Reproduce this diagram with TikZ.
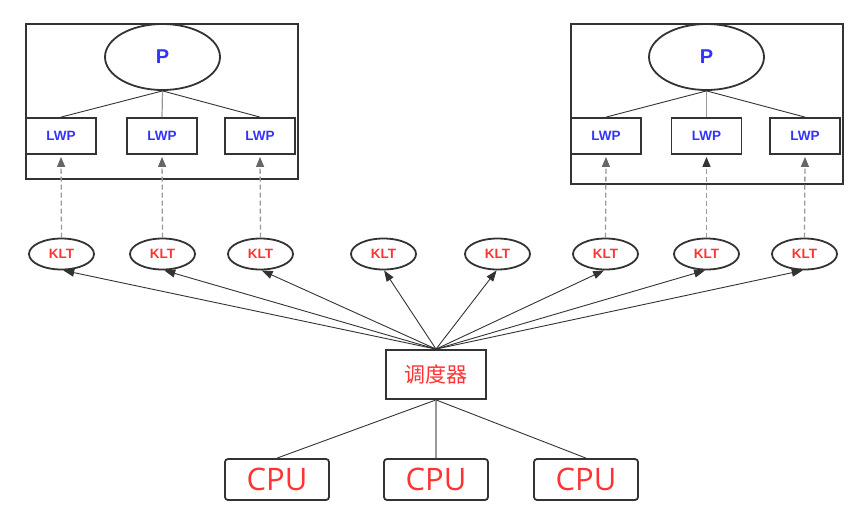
\documentclass[tikz,border=0pt]{standalone}
\usepackage{fontspec}
\setmainfont{Liberation Sans}
\newfontfamily\cjk{Noto Sans CJK SC}
\newfontfamily\cpufont{Open Sans}
\usetikzlibrary{arrows.meta,shapes.geometric}
\definecolor{bl}{HTML}{3333FF}
\definecolor{rd}{HTML}{FF3333}
\definecolor{ln}{HTML}{333333}
\definecolor{dsh}{HTML}{999999}
\definecolor{dtip}{HTML}{666666}
\begin{document}
\begin{tikzpicture}[x=1pt,y=-1pt,
  frame/.style={draw=ln,line width=1.8pt},
  pnode/.style={draw=ln,line width=1.8pt,ellipse,minimum width=115pt,minimum height=66pt,inner sep=0pt,text=bl,font=\bfseries\fontsize{20}{20}\selectfont},
  lwp/.style={draw=ln,line width=1.8pt,rectangle,minimum width=70pt,minimum height=36pt,inner sep=0pt,text=bl,font=\bfseries\fontsize{13.5}{13.5}\selectfont},
  klt/.style={draw=ln,line width=1.8pt,ellipse,minimum width=65pt,minimum height=31pt,inner sep=0pt,text=rd,font=\bfseries\fontsize{13.5}{13.5}\selectfont},
  cpu/.style={draw=ln,line width=1.8pt,rectangle,rounded corners=3pt,minimum width=104pt,minimum height=41pt,inner sep=0pt,text=rd,font=\cpufont\fontsize{31}{31}\selectfont},
  tree/.style={draw=ln,line width=0.9pt},
  treemid/.style={draw=dsh,line width=1.2pt},
  up/.style={draw=dsh,dash pattern=on 5pt off 3pt,line width=1.3pt,shorten >=2pt,-{Triangle[length=10pt,width=8pt,color=dtip,fill=dtip]}},
  sch/.style={draw=ln,line width=0.9pt,-{Triangle[length=11pt,width=8pt]}}
]
\useasboundingbox (0,0) rectangle (865,515);
% left process
\node[frame,minimum width=272pt,minimum height=155pt,inner sep=0pt] (boxL) at (162,101.5) {};
\node[pnode] (pL) at (162.5,57) {P};
\node[lwp] (l1) at (61,136) {LWP};
\node[lwp] (l2) at (162,136) {LWP};
\node[lwp] (l3) at (260,136) {LWP};
\draw[tree] (pL.south) -- (l1.north);
\draw[treemid] (pL.south) -- (l2.north);
\draw[tree] (pL.south) -- (l3.north);
% right process
\node[frame,minimum width=272pt,minimum height=160pt,inner sep=0pt] (boxR) at (707,104) {};
\node[pnode] (pR) at (706.5,57) {P};
\node[lwp] (l4) at (606,136) {LWP};
\node[lwp] (l5) at (706.5,136) {LWP};
\node[lwp] (l6) at (805,136) {LWP};
\draw[tree] (pR.south) -- (l4.north);
\draw[treemid] (pR.south) -- (l5.north);
\draw[tree] (pR.south) -- (l6.north);
% KLTs
\node[klt] (k1) at (61.5,254) {KLT};
\node[klt] (k2) at (162.5,254) {KLT};
\node[klt] (k3) at (260.5,254) {KLT};
\node[klt] (k4) at (383.5,254) {KLT};
\node[klt] (k5) at (497.5,254) {KLT};
\node[klt] (k6) at (605.5,254) {KLT};
\node[klt] (k7) at (706.5,254) {KLT};
\node[klt] (k8) at (804.5,254) {KLT};
% dashed arrows
\draw[up] (k1.north) -- (l1.south);
\draw[up] (k2.north) -- (l2.south);
\draw[up] (k3.north) -- (l3.south);
\draw[up] (k6.north) -- (l4.south);
\draw[up,-{Triangle[length=10pt,width=8pt,color=ln,fill=ln]}] (k7.north) -- (l5.south);
\draw[up] (k8.north) -- (l6.south);
% scheduler
\node[draw=ln,line width=1.8pt,minimum width=100pt,minimum height=49pt,inner sep=0pt,text=rd,font=\cjk\fontsize{21}{21}\selectfont] (s) at (436,374.5) {调度器};
\foreach \k/\a in {k1/-84,k2/-84,k3/-86,k4/-88,k5/-93,k6/-95,k7/-95,k8/-96}{
  \draw[sch] (s.north) -- (\k.\a);
}
% CPUs
\node[cpu] (c1) at (277,479.5) {CPU};
\node[cpu] (c2) at (436,479.5) {CPU};
\node[cpu] (c3) at (586,479.5) {CPU};
\draw[tree] (s.south) -- (c1.north);
\draw[treemid] (s.south) -- (c2.north);
\draw[tree] (s.south) -- (c3.north);
\end{tikzpicture}
\end{document}
